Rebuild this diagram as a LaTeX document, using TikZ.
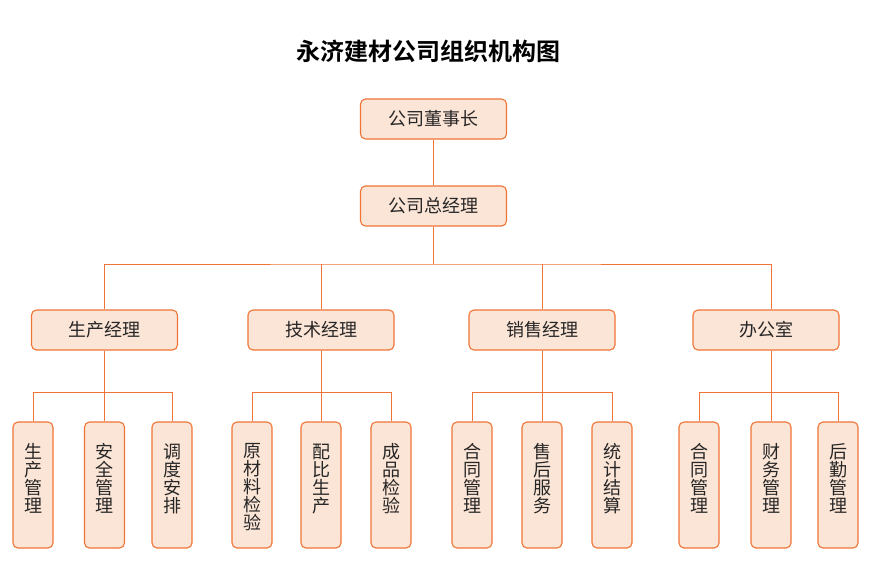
\documentclass[tikz,border=0pt]{standalone}
\usepackage{fontspec}
\setmainfont{Noto Sans CJK SC}[BoldFont={Noto Sans CJK SC Bold}]
\definecolor{ln}{HTML}{EF7436}
\definecolor{bg}{HTML}{FBE5D6}
\definecolor{tx}{HTML}{262626}
\begin{document}
\begin{tikzpicture}[x=1pt,y=-1pt,
  box/.style={draw=ln, fill=bg, line width=1.1pt, rounded corners=5pt,
    minimum width=146pt, minimum height=40pt, inner sep=0pt, text=tx,
    font=\fontsize{18}{18}\selectfont},
  leaf/.style={draw=ln, fill=bg, line width=1.1pt, rounded corners=5pt,
    minimum width=40pt, minimum height=126pt, inner sep=0pt},
  leaftext/.style={anchor=north, yshift=-22pt, inner sep=0pt, align=center,
    text=tx, font=\fontsize{18}{18}\selectfont},
  conn/.style={draw=ln, line width=1pt}]
\fill[white] (0,0) rectangle (872,566);
\useasboundingbox (0,0) rectangle (872,566);

\node[font=\fontsize{24}{28}\selectfont\bfseries, text=black] (title) at (428,51.5) {永济建材公司组织机构图};

\node[box] (ceo) at (433.5,119) {公司董事长};
\node[box] (gm) at (433.5,206) {公司总经理};

\node[box] (p) at (104.5,330) {生产经理};
\node[box] (t) at (321,330) {技术经理};
\node[box] (s) at (542,330) {销售经理};
\node[box] (b) at (766,330) {办公室};

\node[leaf, label={[leaftext]north:{生\\产\\管\\理}}] (l1) at (33,485) {};
\node[leaf, label={[leaftext]north:{安\\全\\管\\理}}] (l2) at (104.5,485) {};
\node[leaf, label={[leaftext]north:{调\\度\\安\\排}}] (l3) at (172,485) {};

\node[leaf, label={[leaftext]north:{原\\材\\料\\检\\验}}] (t1) at (252,485) {};
\node[leaf, label={[leaftext]north:{配\\比\\生\\产}}] (t2) at (321,485) {};
\node[leaf, label={[leaftext]north:{成\\品\\检\\验}}] (t3) at (391,485) {};

\node[leaf, label={[leaftext]north:{合\\同\\管\\理}}] (s1) at (472,485) {};
\node[leaf, label={[leaftext]north:{售\\后\\服\\务}}] (s2) at (542,485) {};
\node[leaf, label={[leaftext]north:{统\\计\\结\\算}}] (s3) at (612,485) {};

\node[leaf, label={[leaftext]north:{合\\同\\管\\理}}] (b1) at (699,485) {};
\node[leaf, label={[leaftext]north:{财\\务\\管\\理}}] (b2) at (771,485) {};
\node[leaf, label={[leaftext]north:{后\\勤\\管\\理}}] (b3) at (838,485) {};

\coordinate (hub) at (433.5,264);
\coordinate (pb) at (104.5,392);
\coordinate (tb) at (321,392);
\coordinate (sb) at (542,392);
\coordinate (bb) at (771,392);

\draw[conn] (ceo) -- (gm);
\draw[conn] (gm.south) -- (hub);
\draw[conn] (p.north) |- (hub) -| (b2.north |- b.north);
\draw[conn] (t.north) -- (t.north |- hub);
\draw[conn] (s.north) -- (s.north |- hub);

\draw[conn] (p.south) -- (l2.north);
\draw[conn] (l1.north) |- (pb) -| (l3.north);
\draw[conn] (t.south) -- (t2.north);
\draw[conn] (t1.north) |- (tb) -| (t3.north);
\draw[conn] (s.south) -- (s2.north);
\draw[conn] (s1.north) |- (sb) -| (s3.north);
\draw[conn] (b2.north |- b.south) -- (b2.north);
\draw[conn] (b1.north) |- (bb) -| (b3.north);
\end{tikzpicture}
\end{document}
